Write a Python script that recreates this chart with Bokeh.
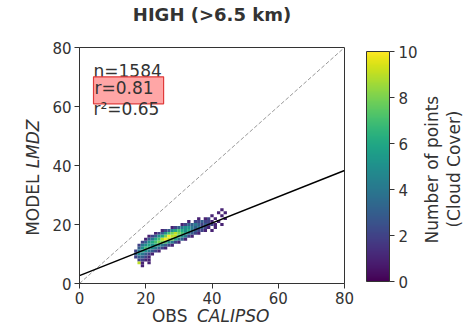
import math
from bokeh.plotting import figure
from bokeh.models import (Range1d, Label, ColorBar, LinearColorMapper, FixedTicker,
                          ColumnDataSource, LinearAxis)
from bokeh.palettes import Viridis256
from bokeh.embed import file_html
from bokeh.resources import INLINE

# ---------------- data ----------------
title_text = "HIGH (>6.5 km)"
x_ticks = [0, 20, 40, 60, 80]
y_ticks = [0, 20, 40, 60, 80]
cbar_ticks = [0, 2, 4, 6, 8, 10]
stats_lines = ["n=1584", "r=0.81", "r\u00b2=0.65"]
fit_intercept = 2.7
fit_slope = 0.445

# 2D histogram cells (cloud cover, %): per row y, first x, counts ('.'=empty, 'a'=10)
row_y = [25, 24, 23, 22, 21, 20, 19, 18, 17, 16, 15, 14, 13, 12, 11, 10, 9, 8, 7, 6]
row_x0 = [43, 42, 40, 36, 33, 31, 28, 25, 23, 21, 20, 19, 18, 18, 17, 17, 17, 18, 18, 19]
row_counts = [
    "1",
    "1.1",
    "1..1",
    "1.12.1..1",
    "1.223221.1",
    "12334323221.1",
    "123455434321.1",
    "12356765643221.1",
    "12357898764321",
    "123568a9975421",
    "134679a986431",
    "235678875421",
    "24565654321",
    "357654321",
    "24654321",
    "354321",
    "23321",
    "2211",
    "91.1",
    "1",
]

cx, cy, cc = [], [], []
for yv, x0, s in zip(row_y, row_x0, row_counts):
    for j, ch in enumerate(s):
        if ch != ".":
            cx.append(x0 + j)
            cy.append(yv)
            cc.append(int(ch, 16))
src = ColumnDataSource(dict(x=cx, y=cy, c=cc))

FONT = "DejaVu Sans"
TXT = "#333333"

p = figure(frame_width=265, frame_height=236, x_range=Range1d(0, 80), y_range=Range1d(0, 80),
           output_backend="svg", toolbar_location=None,
           min_border_left=79, min_border_right=0, min_border_top=47, min_border_bottom=0)
p.title.visible = False
p.xgrid.visible = False
p.ygrid.visible = False
p.outline_line_color = TXT
p.outline_line_width = 1
p.background_fill_color = "white"
p.border_fill_color = "white"

for ax, ticks in ((p.xaxis, x_ticks), (p.yaxis, y_ticks)):
    ax.ticker = FixedTicker(ticks=ticks)
    ax.minor_tick_line_color = None
    ax.major_tick_in = 0
    ax.major_tick_out = 5
    ax.major_tick_line_color = TXT
    ax.axis_line_color = TXT
    ax.major_label_text_font = FONT
    ax.major_label_text_font_size = "15px"
    ax.major_label_text_color = TXT
    ax.major_label_standoff = 3

mapper = LinearColorMapper(palette=Viridis256, low=0, high=10)

# 1:1 line
p.line([p.x_range.start, p.x_range.end], [p.y_range.start, p.y_range.end],
       line_color="#999999", line_dash="4 2", line_width=1)

p.rect(x="x", y="y", width=1, height=1, source=src,
       fill_color={"field": "c", "transform": mapper}, line_color=None)

# regression line
fx = [p.x_range.start, p.x_range.end]
fy = [fit_intercept + fit_slope * v for v in fx]
p.line(fx, fy, line_color="black", line_width=1.4)

# stats text
stat_y = [71.97, 65.5, 59.1]
for i, (t, yv) in enumerate(zip(stats_lines, stat_y)):
    kw = {}
    if i == 1:
        kw = dict(background_fill_color="#ff8080", background_fill_alpha=0.7,
                  border_line_color="#e03a3a", border_line_width=1.2, padding=(1, 10, 1, 6))
    p.add_layout(Label(x=4.23, y=yv, text=t, text_font=FONT, text_font_size="17px",
                       text_color=TXT, text_baseline="middle", text_align="left", **kw))


def spacer(pos, size):
    # label-less axis whose (invisible) tick only adjusts the room of a side panel
    return LinearAxis(ticker=FixedTicker(ticks=[pos]), major_tick_out=size, major_tick_in=0,
                      axis_line_color=None, major_tick_line_color="white",
                      major_label_text_color=None, minor_tick_line_color=None)


def text_axis(pos, text, style, standoff, orient=None, size="17px"):
    ax = LinearAxis(ticker=FixedTicker(ticks=[pos]), major_label_overrides={pos: text},
                    axis_line_color=None, major_tick_line_color=None,
                    minor_tick_line_color=None, major_tick_out=0, major_tick_in=0,
                    major_label_standoff=standoff, major_label_text_font=FONT,
                    major_label_text_font_size=size, major_label_text_color=TXT,
                    major_label_text_font_style=style)
    if orient is not None:
        ax.major_label_orientation = orient
    return ax


# title (above)
p.add_layout(text_axis(40, title_text, "bold", 23, size="18px"), "above")

# x axis label "OBS CALIPSO"
p.add_layout(text_axis(27.24, "OBS", "normal", -1), "below")
p.add_layout(text_axis(46.4, "CALIPSO", "italic", -23), "below")
p.add_layout(spacer(79.5, -4), "below")
# y axis label "MODEL LMDZ"
p.add_layout(text_axis(36.95, "MODEL", "normal", 16, math.pi / 2), "left")
p.add_layout(text_axis(55.6, "LMDZ", "italic", -23, math.pi / 2), "left")

# colour bar
cb = ColorBar(color_mapper=mapper, ticker=FixedTicker(ticks=cbar_ticks), width=23, height=230,
              major_tick_out=5, major_tick_in=0, major_tick_line_color=TXT,
              bar_line_color=TXT, major_label_text_font=FONT, major_label_text_font_size="15px",
              major_label_text_color=TXT, label_standoff=4, padding=3, margin=0,
              location=(19, -1))
p.add_layout(cb, "right")
p.add_layout(text_axis(13.56, "Number of points", "normal", 9, math.pi / 2), "right")
p.add_layout(text_axis(18.98, "(Cloud Cover)", "normal", -1, math.pi / 2), "right")
p.add_layout(spacer(79.5, -11), "right")

open("out.html", "w").write(file_html(p, INLINE))
